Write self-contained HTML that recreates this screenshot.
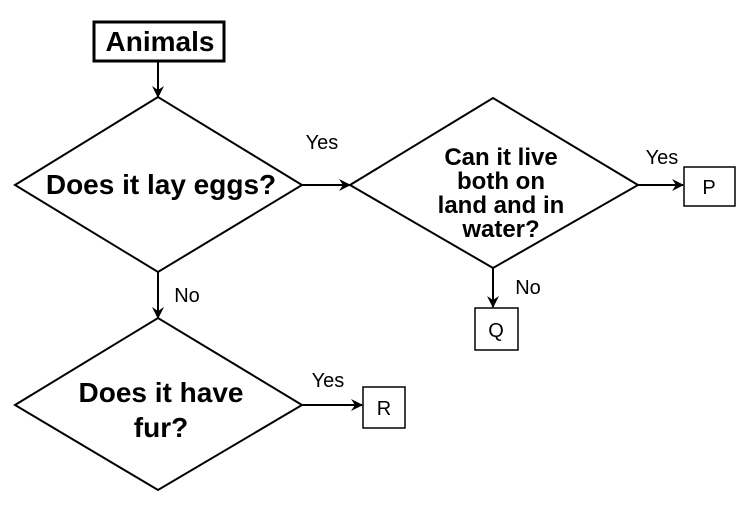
<!DOCTYPE html>
<html><head><meta charset="utf-8"><style>
html,body{margin:0;padding:0;background:#fff;}
svg{display:block;font-family:"Liberation Sans",Arial,sans-serif;}
</style></head><body>
<svg width="744" height="509" viewBox="0 0 744 509">
<defs><marker id="ah" markerWidth="12" markerHeight="12" refX="11" refY="6" orient="auto" markerUnits="userSpaceOnUse"><path d="M0,0 L12,6 L0,12 L4,6 z" fill="#000"/></marker></defs>
<g stroke="#000" fill="none" stroke-width="2">
<rect x="94" y="22" width="130" height="39" stroke-width="3"/>
<line x1="158" y1="62" x2="158" y2="97" marker-end="url(#ah)"/>
<polygon points="15,185 158,97 302,185 158,272"/>
<line x1="302" y1="185" x2="350" y2="185" marker-end="url(#ah)"/>
<polygon points="350,185 493,98 638,185 493,268"/>
<line x1="638" y1="185" x2="683" y2="185" marker-end="url(#ah)"/>
<rect x="684" y="167" width="51" height="39" stroke-width="1.5"/>
<line x1="493" y1="268" x2="493" y2="307" marker-end="url(#ah)"/>
<rect x="475" y="308" width="43" height="42" stroke-width="1.5"/>
<line x1="158" y1="272" x2="158" y2="318" marker-end="url(#ah)"/>
<polygon points="15,405 158,318 302,405 158,490"/>
<line x1="302" y1="405" x2="362" y2="405" marker-end="url(#ah)"/>
<rect x="363" y="387" width="42" height="41" stroke-width="1.5"/>
</g>
<g fill="#000" text-anchor="middle">
<text x="160" y="51" font-size="28" font-weight="bold">Animals</text>
<text x="161" y="194" font-size="28" font-weight="bold">Does it lay eggs?</text>
<g font-size="24" font-weight="bold">
<text x="501" y="165">Can it live</text><text x="501" y="189">both on</text><text x="501" y="213">land and in</text><text x="501" y="237">water?</text>
</g>
<g font-size="28" font-weight="bold">
<text x="161" y="402">Does it have</text><text x="161" y="437">fur?</text>
</g>
<g font-size="20">
<text x="322" y="149">Yes</text>
<text x="662" y="164">Yes</text>
<text x="528" y="294">No</text>
<text x="187" y="302">No</text>
<text x="328" y="387">Yes</text>
<text x="709" y="194">P</text>
<text x="496" y="337">Q</text>
<text x="384" y="415">R</text>
</g>
</g>
</svg>
</body></html>
